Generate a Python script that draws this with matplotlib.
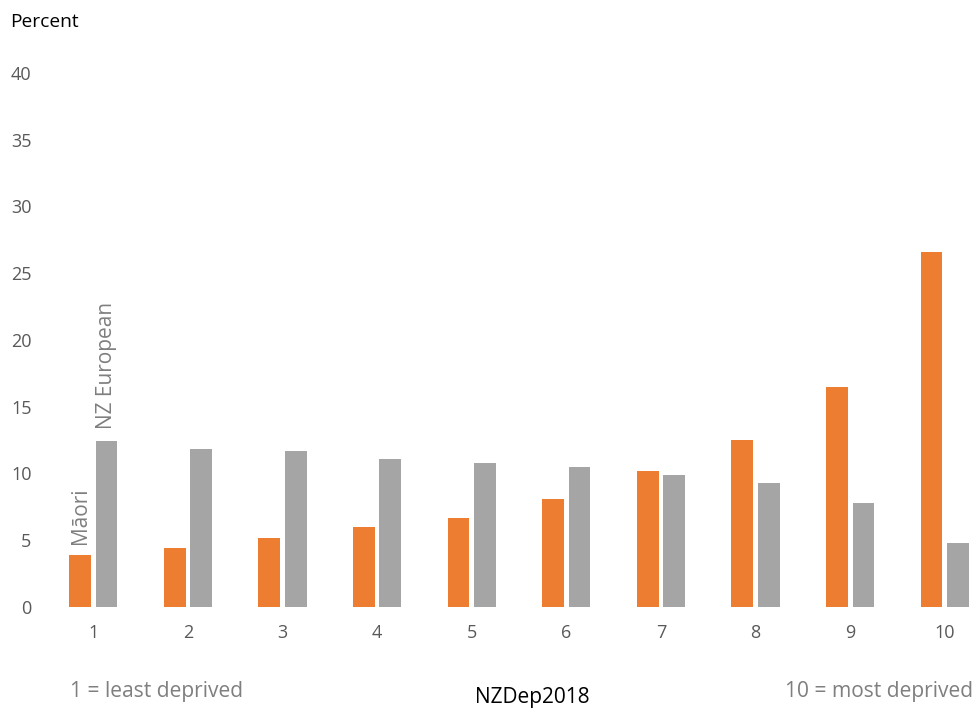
import matplotlib.pyplot as plt
import numpy as np

plt.rcParams['font.family'] = ['Open Sans', 'DejaVu Sans']

# NZDep2018 deciles
deciles = ['1', '2', '3', '4', '5', '6', '7', '8', '9', '10']
maori = [3.9, 4.4, 5.2, 6.0, 6.7, 8.1, 10.2, 12.5, 16.5, 26.6]
nz_european = [12.4, 11.8, 11.7, 11.1, 10.8, 10.5, 9.9, 9.3, 7.8, 4.8]
y_ticks = [0, 5, 10, 15, 20, 25, 30, 35, 40]

orange = '#ED7D31'
grey = '#A5A5A5'
label_grey = '#595959'

fig = plt.figure(figsize=(9.76, 7.08), dpi=100)
# axes placed in pixel terms: x from 46 to 976, y=0 at 607, y=40 at 73
ax = fig.add_axes([46 / 976, (708 - 607) / 708, (976 - 46) / 976, (607 - 73) / 708])

x = np.arange(1, len(deciles) + 1)
w = 0.23
off = 0.14
ax.bar(x - off, maori, width=w, color=orange)
ax.bar(x + off, nz_european, width=w, color=grey)

ax.set_xlim(0.5, 10.33)
ax.set_ylim(0, 40)
ax.set_yticks(y_ticks)
ax.set_xticks(x)
ax.set_xticklabels(deciles)
ax.tick_params(axis='both', length=0, labelsize=13, colors=label_grey)
ax.tick_params(axis='y', pad=10.5)
ax.tick_params(axis='x', pad=12)
for s in ax.spines.values():
    s.set_visible(False)

# series labels, rotated, above first pair of bars
ax.text(1 - off, maori[0] + 0.8, 'Māori', rotation=90, ha='center', va='bottom',
        fontsize=15, color='#7F7F7F')
ax.text(1 + off, nz_european[0] + 0.9, 'NZ European', rotation=90, ha='center', va='bottom',
        fontsize=15, color='#7F7F7F')

fig.text(10 / 976, 1 - 22 / 708, 'Percent', ha='left', va='center', fontsize=13.8, color='black')
fig.text(532 / 976, 1 - 697 / 708, 'NZDep2018', ha='center', va='center', fontsize=15, color='black')
fig.text(70 / 976, 1 - 692 / 708, '1 = least deprived', ha='left', va='center', fontsize=15.1, color='#7F7F7F')
fig.text(973 / 976, 1 - 692 / 708, '10 = most deprived', ha='right', va='center', fontsize=15.1, color='#7F7F7F')

plt.savefig('out.png', dpi=100)
